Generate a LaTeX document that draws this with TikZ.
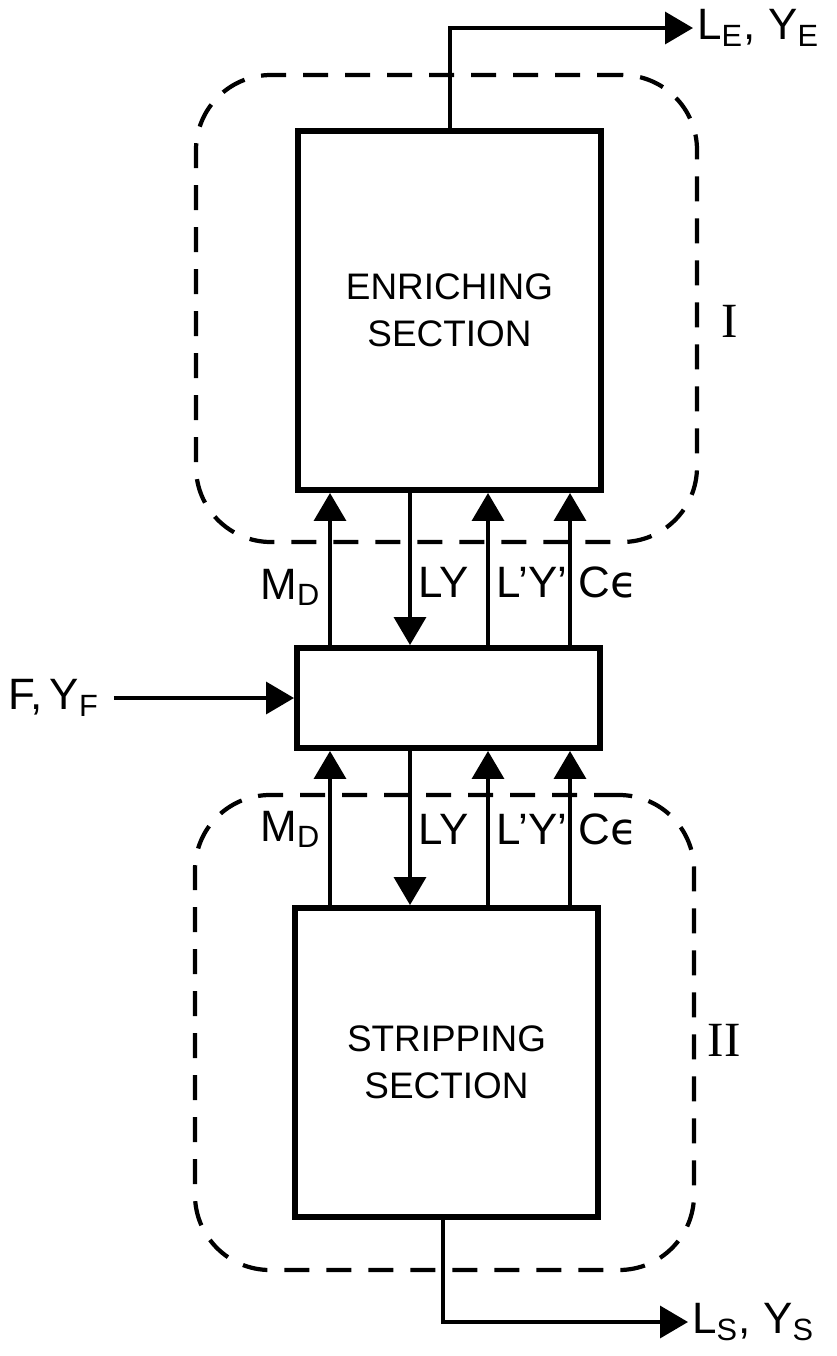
\documentclass[tikz,border=0pt]{standalone}
\usepackage{fontspec}
\setmainfont{Liberation Sans}
\newfontfamily\romanfont{Liberation Serif}
\newfontfamily\greekfont{DejaVu Sans}
\usetikzlibrary{arrows.meta, positioning}

\tikzset{
  section/.style={draw, line width=1.7pt, minimum width=3.03cm, align=center,
    font=\fontsize{10.5}{13.3}\selectfont},
  region/.style={draw, line width=1.2pt, dash pattern=on 0.25cm off 0.17cm,
    rounded corners=0.75cm},
  flow/.style={line width=1pt},
  lbl/.style={font=\fontsize{12.5}{14}\selectfont, inner sep=2pt},
  numeral/.style={font=\romanfont\fontsize{14}{14}\selectfont}
}

\begin{document}
\begin{tikzpicture}[>={Triangle[length=0.28cm, width=0.32cm]}]
  \useasboundingbox (0,0) rectangle (8.36,-13.56);

  % dashed regions
  \node[region, minimum width=5.01cm, minimum height=4.67cm] (zoneI) at (4.465,-3.085) {};
  \node[region, minimum width=4.99cm, minimum height=4.75cm] (zoneII) at (4.445,-10.325) {};
  \node[numeral] (numI) at (7.30,-3.21) {I};
  \node[numeral] (numII) at (7.24,-10.40) {II};

  % column boxes
  \node[section, minimum height=3.59cm] (enrich) at (4.495,-3.105) {ENRICHING\\SECTION};
  \node[section, minimum height=1.0cm] (mixer) at (4.485,-6.98) {};
  \node[section, minimum height=3.09cm] (strip) at (4.465,-10.625) {STRIPPING\\SECTION};

  \coordinate (colM) at (3.30,0);
  \coordinate (colL) at (4.10,0);
  \coordinate (colLp) at (4.88,0);
  \coordinate (colC) at (5.70,0);

  % streams between mixer and enriching section
  \draw[flow, ->] (mixer.north -| colM) -- node[lbl, pos=0.38, left] {M\textsubscript{D}} (enrich.south -| colM);
  \draw[flow, ->] (enrich.south -| colL) -- node[lbl, pos=0.59, right] {LY} (mixer.north -| colL);
  \draw[flow, ->] (mixer.north -| colLp) -- node[lbl, pos=0.41, right] {L'Y'} (enrich.south -| colLp);
  \draw[flow, ->] (mixer.north -| colC) -- node[lbl, pos=0.41, right] {C{\greekfont ϵ}} (enrich.south -| colC);

  % streams between stripping section and mixer
  \draw[flow, ->] (strip.north -| colM) -- node[lbl, pos=0.49, left] {M\textsubscript{D}} (mixer.south -| colM);
  \draw[flow, ->] (mixer.south -| colL) -- node[lbl, pos=0.51, right] {LY} (strip.north -| colL);
  \draw[flow, ->] (strip.north -| colLp) -- node[lbl, pos=0.49, right] {L'Y'} (mixer.south -| colLp);
  \draw[flow, ->] (strip.north -| colC) -- node[lbl, pos=0.49, right] {C{\greekfont ϵ}} (mixer.south -| colC);

  % feed and products
  \node[lbl, anchor=west, inner sep=1pt] (feed) at (0.04,-6.98) {F,\,Y\textsubscript{F}};
  \draw[flow, ->] ([xshift=0.1cm]feed.east) -- (mixer.west);

  \coordinate (topE) at (4.50,-0.28);
  \node[lbl, anchor=west, inner sep=1pt] (prodE) at (6.93,-0.28) {L\textsubscript{E}, Y\textsubscript{E}};
  \draw[flow, ->] (enrich.north -| topE) |- (prodE.west);

  \coordinate (botS) at (4.43,-13.22);
  \node[lbl, anchor=west, inner sep=1pt] (prodS) at (6.88,-13.22) {L\textsubscript{S}, Y\textsubscript{S}};
  \draw[flow, ->] (strip.south -| botS) |- (prodS.west);
\end{tikzpicture}
\end{document}
